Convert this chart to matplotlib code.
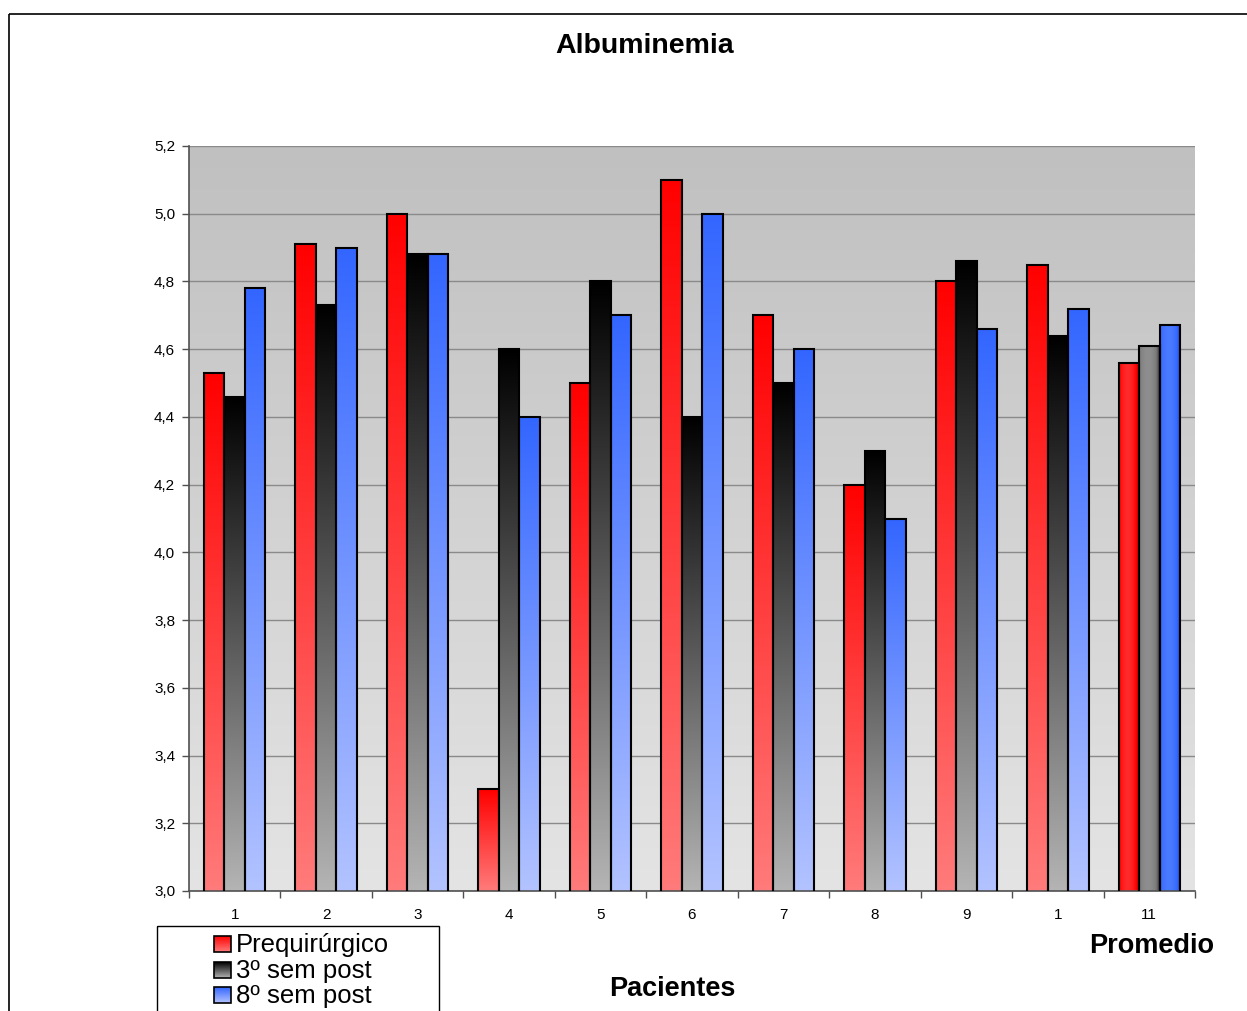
import numpy as np
import matplotlib
matplotlib.use("Agg")
import matplotlib.pyplot as plt
from matplotlib.colors import LinearSegmentedColormap
from matplotlib.patches import Rectangle

# Data
pacientes = ["1", "2", "3", "4", "5", "6", "7", "8", "9", "1", "11"]
prequirurgico = [4.53, 4.91, 5.00, 3.30, 4.50, 5.10, 4.70, 4.20, 4.80, 4.85, 4.56]
sem3_post = [4.46, 4.73, 4.88, 4.60, 4.80, 4.40, 4.50, 4.30, 4.86, 4.64, 4.61]
sem8_post = [4.78, 4.90, 4.88, 4.40, 4.70, 5.00, 4.60, 4.10, 4.66, 4.72, 4.67]
series_names = ["Prequirúrgico", "3º sem post", "8º sem post"]
y_ticks = [3.0, 3.2, 3.4, 3.6, 3.8, 4.0, 4.2, 4.4, 4.6, 4.8, 5.0, 5.2]

plt.rcParams['font.family'] = ['Liberation Sans', 'DejaVu Sans']

W, H = 1247, 1011
fig = plt.figure(figsize=(W / 100, H / 100), dpi=100)
fig.patch.set_facecolor('white')

# vertical shading (light at the base, saturated at the top)
vert_cmaps = [
    LinearSegmentedColormap.from_list('r', ['#ff7b7b', '#ff0000']),
    LinearSegmentedColormap.from_list('k', ['#b4b4b4', '#000000']),
    LinearSegmentedColormap.from_list('b', ['#b3c3ff', '#3366ff']),
]
# cylinder shading for the average group (dark edges, bright centre)
cyl_cmaps = [
    LinearSegmentedColormap.from_list('rc', ['#9a0000', '#ff0000', '#ff2a2a']),
    LinearSegmentedColormap.from_list('kc', ['#2a2a2a', '#7a7a7a', '#8e8e8e']),
    LinearSegmentedColormap.from_list('bc', ['#1a3a9a', '#3366ff', '#4a7aff']),
]
bg_cmap = LinearSegmentedColormap.from_list('bg', ['#e4e4e4', '#c0c0c0'])

ax = fig.add_axes([189 / W, 1 - 891 / H, (1195 - 189) / W, (891 - 146) / H])
ymin, ymax = 3.0, 5.2
n = len(pacientes)
xs = np.arange(n)
xlo, xhi = -0.5, n - 0.5

# plot-area background
ax.imshow(np.linspace(0, 1, 256).reshape(-1, 1), extent=[xlo, xhi, ymin, ymax],
          origin='lower', cmap=bg_cmap, aspect='auto', zorder=0, interpolation='bilinear')

w = 0.224
offsets = [-w, 0.0, w]
vgrad = np.linspace(0, 1, 256).reshape(-1, 1)
t = np.linspace(0, 1, 64)
cyl = np.clip(1 - ((t - 0.42) / 0.58) ** 2, 0, 1).reshape(1, -1)

for s, vals in enumerate([prequirurgico, sem3_post, sem8_post]):
    for i, v in enumerate(vals):
        xc = xs[i] + offsets[s]
        if i == n - 1:
            ax.imshow(cyl, extent=[xc - w / 2, xc + w / 2, ymin, v], origin='lower',
                      cmap=cyl_cmaps[s], aspect='auto', zorder=2, interpolation='bilinear')
        else:
            ax.imshow(vgrad, extent=[xc - w / 2, xc + w / 2, ymin, v], origin='lower',
                      cmap=vert_cmaps[s], aspect='auto', zorder=2, interpolation='bilinear')
    ax.bar(xs + offsets[s], vals, width=w, fill=False, edgecolor='black',
           linewidth=1.5, zorder=3)

ax.set_xlim(xlo, xhi)
ax.set_ylim(ymin, ymax)

ax.set_axisbelow(True)
ax.yaxis.grid(True, color='#8a8a8a', linewidth=1)
ax.xaxis.grid(False)
for side in ['top', 'right']:
    ax.spines[side].set_visible(False)
for side in ['left', 'bottom']:
    ax.spines[side].set_color('#505050')
    ax.spines[side].set_linewidth(1.2)

ax.set_yticks(y_ticks)
ax.set_yticklabels([f"{v:.1f}".replace('.', ',') for v in y_ticks])
ax.tick_params(axis='y', direction='out', length=5, width=1, color='#505050',
               labelsize=11, pad=5)

ax.set_xticks(np.arange(xlo, xhi + 0.01, 1.0))
ax.set_xticklabels([])
ax.set_xticks(xs, minor=True)
ax.set_xticklabels(pacientes, minor=True)
ax.tick_params(axis='x', which='major', direction='out', length=5, width=1, color='#505050')
ax.tick_params(axis='x', which='minor', length=0, labelsize=11, pad=12)

# overlay in pixel coordinates for frame, titles and legend
ov = fig.add_axes([0, 0, 1, 1])
ov.patch.set_visible(False)
ov.axis('off')

ov.plot([9, 9], [H + 5, 14], color='black', lw=1.2, solid_capstyle='butt')
ov.plot([9, W + 5], [14, 14], color='black', lw=1.2, solid_capstyle='butt')

ov.text(645, 46, "Albuminemia", ha='center', va='center', fontsize=20.5,
        fontweight='bold', family=['Liberation Sans Narrow', 'Liberation Sans', 'DejaVu Sans'])
ov.text(672, 989, "Pacientes", ha='center', va='center', fontsize=19.5, fontweight='bold')
ov.text(1152, 946, "Promedio", ha='center', va='center', fontsize=19.5, fontweight='bold')

ov.add_patch(Rectangle((157, 926), 282, 140, fill=False, edgecolor='black', lw=1))
for k, yc in enumerate([944, 970, 995]):
    ov.imshow(vgrad, extent=[214, 231, yc + 8, yc - 8], origin='lower',
              cmap=vert_cmaps[k], aspect='auto', zorder=2, interpolation='bilinear')
    ov.add_patch(Rectangle((214, yc - 8), 17, 16, fill=False, edgecolor='black',
                           lw=1.2, zorder=3))
    ov.text(236, yc + 1, series_names[k], ha='left', va='center', fontsize=18.5)

ov.set_xlim(0, W)
ov.set_ylim(H, 0)

fig.savefig('out.png', dpi=100)
